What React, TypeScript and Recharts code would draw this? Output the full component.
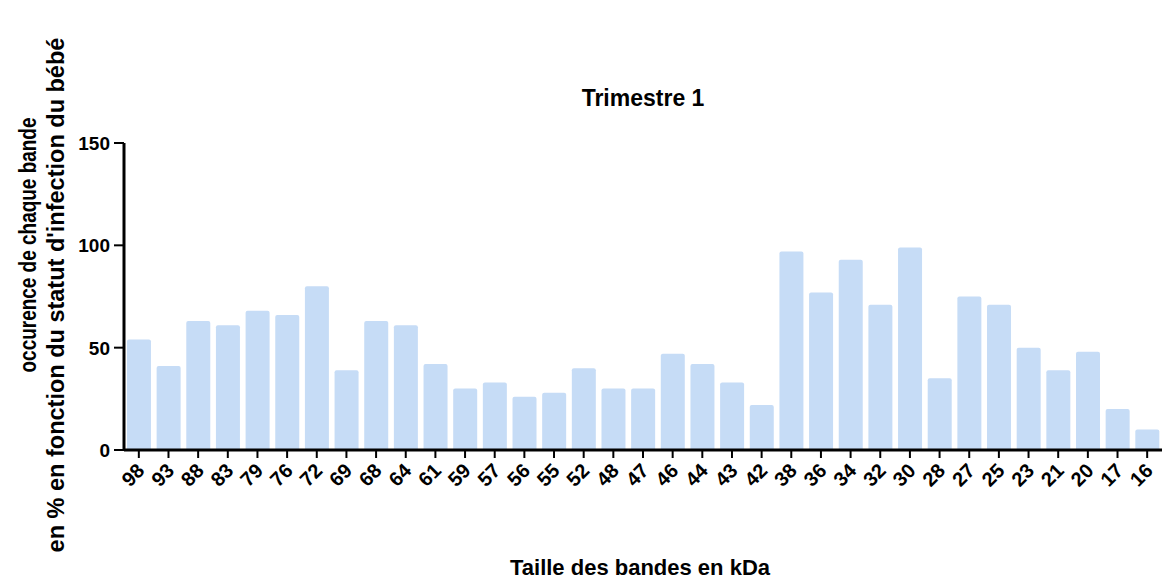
import React from 'react';
import { BarChart, Bar, XAxis, YAxis } from 'recharts';

const categories = ['98', '93', '88', '83', '79', '76', '72', '69', '68', '64', '61', '59', '57', '56', '55', '52', '48', '47', '46', '44', '43', '42', '38', '36', '34', '32', '30', '28', '27', '25', '23', '21', '20', '17', '16'];
const values = [54, 41, 63, 61, 68, 66, 80, 39, 63, 61, 42, 30, 33, 26, 28, 40, 30, 30, 47, 42, 33, 22, 97, 77, 93, 71, 99, 35, 75, 71, 50, 39, 48, 20, 10];
const yTicks = [0, 50, 100, 150];
const title = 'Trimestre 1';
const xLabel = 'Taille des bandes en kDa';
const yLabelLine1 = 'occurence de chaque bande';
const yLabelLine2 = "en % en fonction du statut d'infection du bébé";

const data = categories.map((c, i) => ({ band: c, value: values[i] }));

const FONT = "'Liberation Sans', Arial, Helvetica, sans-serif";
const BAR_COLOR = '#c6dcf6';

const XTick = (props: any) => {
  const { x, y, payload } = props;
  return (
    <g transform={`translate(${x - 3},${y + 2})`}>
      <text
        textAnchor="end"
        transform="rotate(-45)"
        fontSize={20}
        fontWeight="bold"
        fill="#000"
        fontFamily={FONT}
        dy="0.7em"
      >
        {payload.value}
      </text>
    </g>
  );
};

const YTick = (props: any) => {
  const { x, y, payload } = props;
  return (
    <text x={x - 2} y={y} dy="0.36em" textAnchor="end" fontSize={19} fontWeight="bold" fill="#000" fontFamily={FONT}>
      {payload.value}
    </text>
  );
};

export default function App() {
  return (
    <div style={{ position: 'absolute', left: 0, top: 0, width: 1168, height: 581, background: '#fff', fontFamily: FONT }}>
      <BarChart
        width={1168}
        height={581}
        data={data}
        margin={{ top: 143, right: 6, bottom: 0, left: 0 }}
        barCategoryGap="10%"
      >
        <XAxis
          dataKey="band"
          interval={0}
          height={131}
          tickSize={8}
          tickLine={{ stroke: '#000', strokeWidth: 2 }}
          axisLine={{ stroke: '#000', strokeWidth: 3 }}
          tick={<XTick />}
        />
        <YAxis
          width={124}
          domain={[0, 150]}
          ticks={yTicks}
          tickSize={10}
          tickLine={{ stroke: '#000', strokeWidth: 2 }}
          axisLine={{ stroke: '#000', strokeWidth: 3 }}
          tick={<YTick />}
        />
        <Bar dataKey="value" fill={BAR_COLOR} radius={[2, 2, 0, 0]} isAnimationActive={false} />
      </BarChart>
      <div style={{ position: 'absolute', left: 443, top: 85, width: 400, textAlign: 'center', fontSize: 23, fontWeight: 'bold', color: '#000' }}>
        {title}
      </div>
      <div style={{ position: 'absolute', left: 440, top: 555, width: 400, textAlign: 'center', fontSize: 22, fontWeight: 'bold', color: '#000' }}>
        {xLabel}
      </div>
      <svg style={{ position: 'absolute', left: 0, top: 0 }} width={100} height={581}>
        <text
          transform="translate(36,245) rotate(-90)"
          textAnchor="middle"
          fontSize={23}
          fontWeight="bold"
          fill="#000"
          fontFamily={FONT}
          textLength={255}
          lengthAdjust="spacingAndGlyphs"
        >
          {yLabelLine1}
        </text>
        <text transform="translate(64,295) rotate(-90)" textAnchor="middle" fontSize={23.5} fontWeight="bold" fill="#000" fontFamily={FONT}>
          {yLabelLine2}
        </text>
      </svg>
    </div>
  );
}
